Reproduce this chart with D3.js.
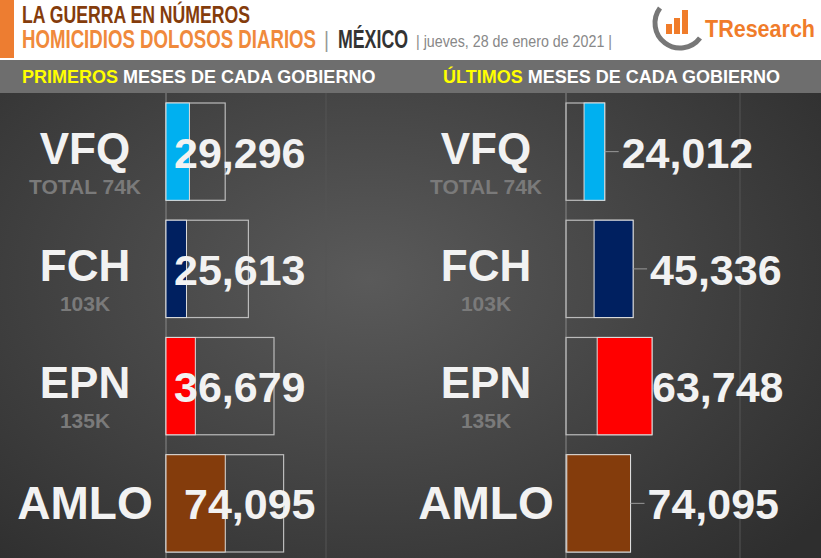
<!DOCTYPE html>
<html><head><meta charset="utf-8">
<script src="https://cdn.jsdelivr.net/npm/d3@7"></script>
<style>body{margin:0;background:#fff}svg{display:block}</style>
</head><body><svg></svg>
<script>
var govs=['VFQ','FCH','EPN','AMLO'];
var totals=['TOTAL 74K','103K','135K',''];
var colors=['#00b0f0','#002060','#ff0000','#843c0c'];
// primeros meses: valor y total del sexenio (miles)
var firstVals=[29296,25613,36679,74095];
var firstTotals=[74000,103000,135000,147000];
// ultimos meses: valor y extremo del contorno
var lastVals=[24012,45336,63748,74095];
var lastEnds=[45000,78000,100000,75000];

var W=821,H=558;
var svg=d3.select('svg').attr('width',W).attr('height',H);
var defs=svg.append('defs');
var rg=defs.append('radialGradient').attr('id','bg').attr('cx','45%').attr('cy','50%').attr('r','70%');
rg.append('stop').attr('offset','0').attr('stop-color','#5a5a5a');
rg.append('stop').attr('offset','1').attr('stop-color','#2e2e2e');

svg.append('rect').attr('width',W).attr('height',H).attr('fill','url(#bg)');
svg.append('rect').attr('width',W).attr('height',60).attr('fill','#fff');
svg.append('rect').attr('width',14).attr('height',58).attr('fill','#ed7d31');
svg.append('rect').attr('y',60).attr('width',W).attr('height',33).attr('fill','#6e6e6e');

var font='Liberation Sans,Arial,sans-serif';
function ht(x,y,w,size,fill,txt,weight){
  svg.append('text').attr('x',x).attr('y',y).attr('font-family',font).attr('font-weight',weight||'bold')
    .attr('font-size',size).attr('fill',fill).attr('textLength',w).attr('lengthAdjust','spacingAndGlyphs').text(txt);
}
ht(22,23,228,24,'#843c0c','LA GUERRA EN NÚMEROS');
ht(22,48,294,26,'#f08a3c','HOMICIDIOS DOLOSOS DIARIOS');
ht(324,47,5,22,'#999','|','normal');
ht(338,48,70,26,'#333','MÉXICO');
ht(416,47,196,17,'#888','| jueves, 28 de enero de 2021 |','normal');

// logo
var lg=svg.append('g').attr('transform','translate(680,22)');
lg.append('path').attr('d','M-20,-14 A25,25 0 1,0 20,16').attr('fill','none').attr('stroke','#777').attr('stroke-width',5);
[[-14,2,6,10],[-6,-4,6,16],[2,-12,6,24]].forEach(function(b){
  lg.append('rect').attr('x',b[0]).attr('y',b[1]).attr('width',b[2]).attr('height',b[3]).attr('fill','#f07c2a');});
ht(705,37,110,23,'#f07c2a','TResearch');

function head(x,y1,rest){
  var t=svg.append('text').attr('x',x).attr('y',83).attr('font-family',font)
    .attr('font-weight','bold').attr('font-size',18);
  t.append('tspan').attr('fill','#ffff00').text(y1);
  t.append('tspan').attr('fill','#fff').text(rest);
}
head(22,'PRIMEROS',' MESES DE CADA GOBIERNO');
head(443,'ÚLTIMOS',' MESES DE CADA GOBIERNO');

// grid lines
[166,326,566,740].forEach(function(x){
  svg.append('line').attr('x1',x).attr('x2',x).attr('y1',93).attr('y2',H)
    .attr('stroke',x===166||x===566?'#888':'#555').attr('stroke-width',1);});

var y=d3.scaleBand().domain(govs).range([103,552]).paddingInner(0.17).paddingOuter(0);
var xL=d3.scaleLinear().domain([0,100000]).range([166,246]);
var xR=d3.scaleLinear().domain([0,100000]).range([566,652]);
var fmt=d3.format(',');

function labels(cx){
  govs.forEach(function(g,i){
    var yc=y(g)+y.bandwidth()/2;
    svg.append('text').attr('x',cx).attr('y',i==3?yc+16:yc+12).attr('text-anchor','middle').attr('font-family',font)
      .attr('font-weight','bold').attr('font-size',i==3?46:44).attr('fill','#f2f2f2').text(g);
    if(totals[i]) svg.append('text').attr('x',cx).attr('y',yc+42).attr('text-anchor','middle').attr('font-family',font)
      .attr('font-weight','bold').attr('font-size',21).attr('fill','#7a7a7a').text(totals[i]);
  });
}
labels(85);labels(486);

var gL=svg.append('g');
gL.selectAll('.o').data(govs).enter().append('rect')
  .attr('x',xL(0)).attr('y',function(d){return y(d);}).attr('width',function(d,i){return xL(firstTotals[i])-xL(0);})
  .attr('height',y.bandwidth()).attr('fill','none').attr('stroke','#bbb').attr('stroke-width',1.2);
gL.selectAll('.f').data(govs).enter().append('rect')
  .attr('x',xL(0)).attr('y',function(d){return y(d);}).attr('width',function(d,i){return xL(firstVals[i])-xL(0);})
  .attr('height',y.bandwidth()).attr('fill',function(d,i){return colors[i];}).attr('stroke','#ddd').attr('stroke-width',1);
gL.selectAll('text').data(govs).enter().append('text')
  .attr('x',function(d,i){return i==3?184:174;}).attr('y',function(d){return y(d)+y.bandwidth()/2+16;})
  .attr('font-family',font).attr('font-weight','bold').attr('font-size',43).attr('fill','#f2f2f2')
  .text(function(d,i){return fmt(firstVals[i]);});

var gR=svg.append('g');
gR.selectAll('.o').data(govs).enter().append('rect')
  .attr('x',xR(0)).attr('y',function(d){return y(d);}).attr('width',function(d,i){return xR(lastEnds[i])-xR(0);})
  .attr('height',y.bandwidth()).attr('fill','none').attr('stroke','#bbb').attr('stroke-width',1.2);
gR.selectAll('.f').data(govs).enter().append('rect')
  .attr('x',function(d,i){return xR(lastEnds[i])-(xR(lastVals[i])-xR(0));}).attr('y',function(d){return y(d);})
  .attr('width',function(d,i){return Math.min(xR(lastVals[i])-xR(0),xR(lastEnds[i])-xR(0));})
  .attr('height',y.bandwidth()).attr('fill',function(d,i){return colors[i];}).attr('stroke','#ddd').attr('stroke-width',1);
gR.selectAll('line').data(govs).enter().append('line')
  .attr('x1',function(d,i){return xR(lastEnds[i]);}).attr('x2',function(d,i){return xR(lastEnds[i])+(i==2?0:14);})
  .attr('y1',function(d){return y(d)+y.bandwidth()/2;}).attr('y2',function(d){return y(d)+y.bandwidth()/2;})
  .attr('stroke','#999');
gR.selectAll('text').data(govs).enter().append('text')
  .attr('x',function(d,i){return xR(lastEnds[i])+(i==2?0:17);}).attr('y',function(d){return y(d)+y.bandwidth()/2+16;})
  .attr('font-family',font).attr('font-weight','bold').attr('font-size',43).attr('fill','#f2f2f2')
  .text(function(d,i){return fmt(lastVals[i]);});
</script></body></html>
